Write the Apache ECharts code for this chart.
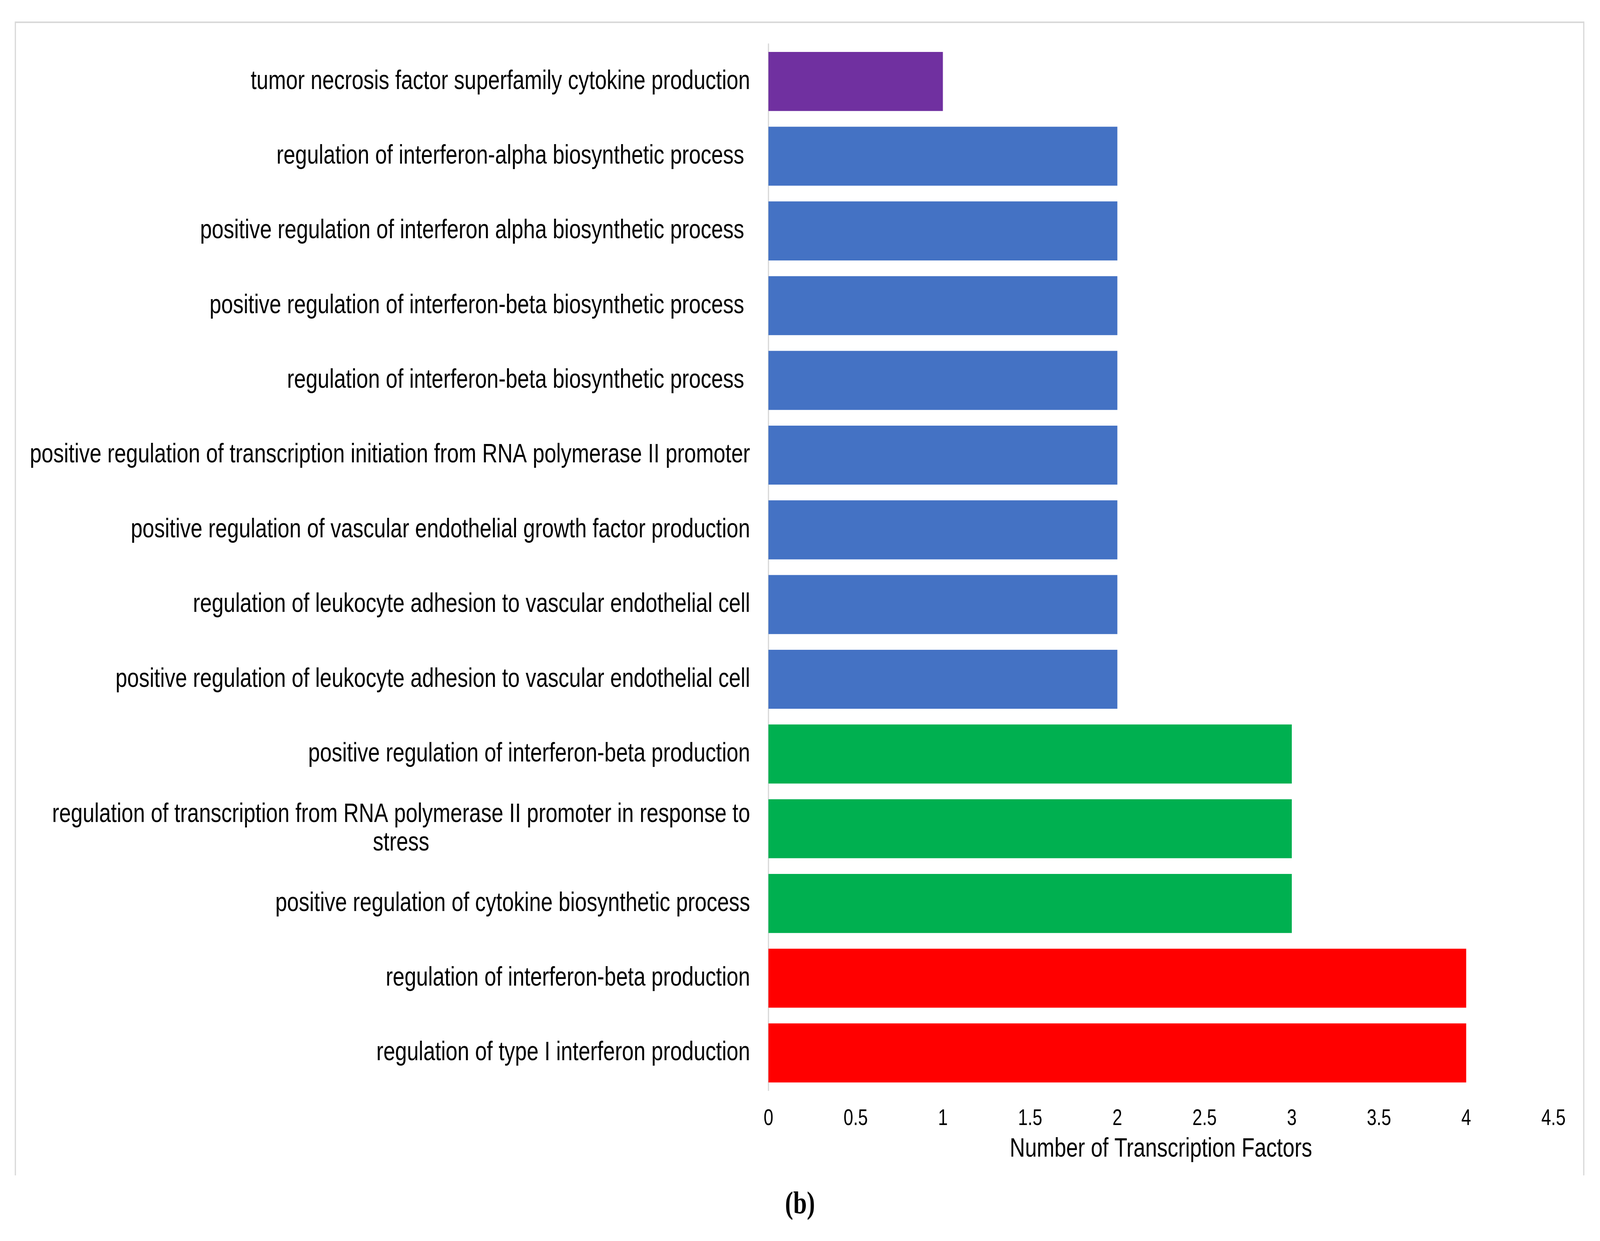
<!DOCTYPE html>
<html>
<head>
<meta charset="utf-8">
<script src="https://cdn.jsdelivr.net/npm/echarts@6/dist/echarts.min.js"></script>
<style>
  html, body { margin: 0; padding: 0; background: #fff; overflow: hidden; }
  #main { width: 5222px; height: 3178px; transform-origin: 0 0; }
</style>
</head>
<body>
<div id="main"></div>
<script>
// categories, top of the chart first
var categories = [
  'tumor necrosis factor superfamily cytokine production',
  'regulation of interferon-alpha biosynthetic process ',
  'positive regulation of interferon alpha biosynthetic process ',
  'positive regulation of interferon-beta biosynthetic process ',
  'regulation of interferon-beta biosynthetic process ',
  'positive regulation of transcription initiation from RNA polymerase II promoter',
  'positive regulation of vascular endothelial growth factor production',
  'regulation of leukocyte adhesion to vascular endothelial cell',
  'positive regulation of leukocyte adhesion to vascular endothelial cell',
  'positive regulation of interferon-beta production',
  'regulation of transcription from RNA polymerase II promoter in response to\nstress',
  'positive regulation of cytokine biosynthetic process',
  'regulation of interferon-beta production',
  'regulation of type I interferon production'
];
var tfCounts = [1, 2, 2, 2, 2, 2, 2, 2, 2, 3, 3, 3, 4, 4];
var xTicks = [0, 0.5, 1, 1.5, 2, 2.5, 3, 3.5, 4, 4.5];

// bar colour by count
var countColors = { 1: '#7030A0', 2: '#4472C4', 3: '#00B050', 4: '#FF0000' };

var sans = '"Liberation Sans", Arial, sans-serif';

var chartDom = document.getElementById('main');

// the window may be narrower than the figure: squeeze the whole figure into it
var sx = Math.min(1, window.innerWidth / 5222);
var sy = Math.min(1, window.innerHeight / 3178);
chartDom.style.transform = 'scale(' + sx + ',' + sy + ')';

var myChart = echarts.init(chartDom, null, { renderer: 'canvas' });

var option = {
  backgroundColor: '#fff',
  animation: false,
  grid: { left: 2508, top: 113, width: 2562, height: 2679, containLabel: false },
  xAxis: {
    type: 'value',
    min: xTicks[0],
    max: xTicks[xTicks.length - 1],
    interval: xTicks[1] - xTicks[0],
    axisLine: { show: false },
    axisTick: { show: false },
    splitLine: { show: false },
    axisLabel: { fontSize: 57, color: '#000', fontFamily: sans, margin: 45 },
    name: 'Number of Transcription Factors',
    nameLocation: 'middle',
    nameGap: 116,
    nameTextStyle: { fontSize: 69, color: '#000', fontFamily: sans }
  },
  yAxis: {
    type: 'category',
    inverse: true,
    data: categories,
    axisLine: { show: true, lineStyle: { color: '#d9d9d9', width: 4 } },
    axisTick: { show: false },
    axisLabel: {
      margin: 60,
      color: '#000',
      fontSize: 69,
      fontFamily: sans,
      formatter: function (v) {
        return v.split('\n').map(function (s) { return '{c|' + s + '}'; }).join('\n');
      },
      rich: {
        c: { align: 'center', fontSize: 69, fontFamily: sans, color: '#000', lineHeight: 73 }
      }
    }
  },
  series: [
    {
      name: 'Number of Transcription Factors',
      type: 'bar',
      barCategoryGap: '21%',
      data: tfCounts.map(function (v) {
        return { value: v, itemStyle: { color: countColors[v] } };
      })
    }
  ],
  graphic: [
    {
      type: 'polyline',
      shape: { points: [[50, 3010], [50, 57], [5169, 57], [5169, 3010]] },
      style: { stroke: '#d9d9d9', lineWidth: 4, fill: null }
    },
    {
      type: 'text',
      x: 2611,
      y: 3086,
      style: {
        text: '(b)',
        font: 'bold 80px "Liberation Serif", "Times New Roman", serif',
        fill: '#000',
        align: 'center',
        verticalAlign: 'middle'
      }
    }
  ]
};

option && myChart.setOption(option);
</script>
</body>
</html>
